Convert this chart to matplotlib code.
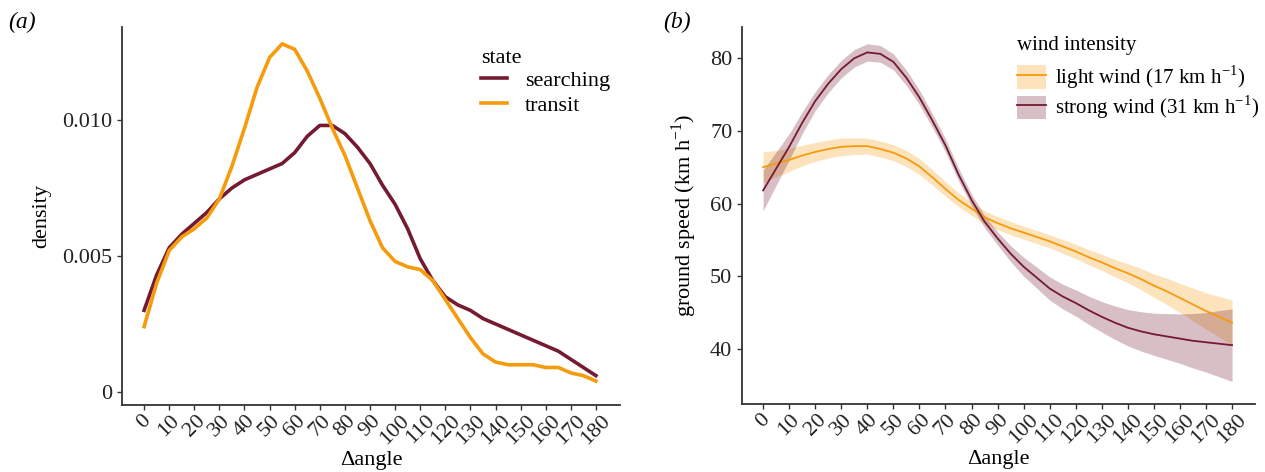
import matplotlib
matplotlib.use("Agg")
import matplotlib.pyplot as plt
from matplotlib.lines import Line2D
from matplotlib.patches import Patch
import numpy as np

plt.rcParams['font.family'] = ['Liberation Serif', 'DejaVu Serif']
plt.rcParams['mathtext.fontset'] = 'custom'
plt.rcParams['mathtext.rm'] = 'Liberation Serif'

# values read every 5 degrees
angle = list(range(0, 181, 5))
tick_angles = list(range(0, 181, 10))

searching = [0.0030, 0.0043, 0.0053, 0.0058, 0.0062, 0.0066, 0.0071, 0.0075, 0.0078, 0.0080,
             0.0082, 0.0084, 0.0088, 0.0094, 0.0098, 0.0098, 0.0095, 0.0090, 0.0084, 0.0076,
             0.0069, 0.0060, 0.0049, 0.0041, 0.0035, 0.0032, 0.0030, 0.0027, 0.0025, 0.0023,
             0.0021, 0.0019, 0.0017, 0.0015, 0.0012, 0.0009, 0.0006]
transit = [0.0024, 0.0040, 0.0052, 0.0057, 0.0060, 0.0064, 0.0071, 0.0083, 0.0097, 0.0112,
           0.0123, 0.0128, 0.0126, 0.0118, 0.0108, 0.0097, 0.0087, 0.0075, 0.0063, 0.0053,
           0.0048, 0.0046, 0.0045, 0.0041, 0.0034, 0.0027, 0.0020, 0.0014, 0.0011, 0.0010,
           0.0010, 0.0010, 0.0009, 0.0009, 0.0007, 0.0006, 0.0004]

light_mean = [65.0, 65.5, 66.0, 66.6, 67.1, 67.5, 67.8, 67.9, 67.9, 67.5, 67.0, 66.2, 65.1,
              63.6, 62.0, 60.5, 59.3, 58.1, 57.3, 56.6, 56.0, 55.4, 54.8, 54.1, 53.4, 52.6,
              51.9, 51.1, 50.4, 49.6, 48.7, 47.9, 47.0, 46.1, 45.2, 44.4, 43.6]
light_se = [2.1, 1.8, 1.6, 1.4, 1.3, 1.25, 1.2, 1.15, 1.1, 1.1, 1.1, 1.1, 1.1, 1.05, 1.0, 0.95,
            0.9, 0.9, 0.9, 0.9, 0.9, 0.9, 0.9, 0.95, 1.0, 1.05, 1.1, 1.2, 1.3, 1.45, 1.6, 1.8,
            2.0, 2.25, 2.5, 2.8, 3.1]
strong_mean = [61.8, 64.8, 67.8, 71.1, 74.1, 76.5, 78.5, 80.0, 80.8, 80.6, 79.5, 77.3, 74.6,
               71.4, 68.0, 64.0, 60.5, 57.5, 55.2, 53.1, 51.3, 49.8, 48.3, 47.2, 46.3, 45.3,
               44.4, 43.6, 42.9, 42.4, 42.0, 41.7, 41.4, 41.1, 40.9, 40.7, 40.5]
strong_se = [2.8, 2.3, 1.8, 1.5, 1.3, 1.25, 1.2, 1.2, 1.2, 1.15, 1.1, 1.05, 1.0, 0.95, 0.9, 0.85,
             0.8, 0.85, 0.9, 1.1, 1.3, 1.45, 1.6, 1.7, 1.8, 1.95, 2.1, 2.3, 2.5, 2.7, 2.9, 3.15,
             3.4, 3.75, 4.1, 4.55, 5.0]

maroon = '#741b31'
orange = '#f59b0c'
W, H = 1265, 472
FS = 16

fig = plt.figure(figsize=(12.65, 4.72), dpi=100)
ax1 = fig.add_axes([122 / W, 1 - 405 / H, (620 - 122) / W, (405 - 27) / H])
ax2 = fig.add_axes([742 / W, 1 - 404 / H, (1255 - 742) / W, (404 - 27) / H])

def style(ax):
    for s in ['top', 'right']:
        ax.spines[s].set_visible(False)
    for s in ['left', 'bottom']:
        ax.spines[s].set_color('#333333')
        ax.spines[s].set_linewidth(1.3)
    ax.tick_params(colors='#333333', labelsize=FS, length=3.5, width=1)
    ax.tick_params(axis='x', pad=1)
    ax.set_xticks(tick_angles)
    ax.set_xticklabels([str(t) for t in tick_angles], rotation=45, ha='center',
                       color='#222222')
    for lab in ax.get_yticklabels():
        lab.set_color('#222222')
    ax.set_xlabel('Δangle', fontsize=FS, va='center')
    ax.xaxis.set_label_coords(0.5, -0.147)

# panel a
ax1.plot(angle, searching, color=maroon, lw=2.6, label='searching')
ax1.plot(angle, transit, color=orange, lw=2.6, label='transit')
style(ax1)
ax1.set_xlim(-8.8, 189.6)
ax1.set_ylim(-0.00048, 0.01342)
ax1.set_yticks([0, 0.005, 0.010])
ax1.set_yticklabels(['0', '0.005', '0.010'])
ax1.set_ylabel('density', fontsize=FS, labelpad=8)
leg1 = ax1.legend(title='state', loc='upper left', bbox_to_anchor=(0.68, 0.995), frameon=False,
                  fontsize=FS, title_fontsize=FS, handlelength=1.2, handletextpad=0.8,
                  labelspacing=0.2)
leg1._legend_box.align = 'left'
leg1._legend_box.sep = 2

# panel b
lo_l = np.array(light_mean) - np.array(light_se)
hi_l = np.array(light_mean) + np.array(light_se)
lo_s = np.array(strong_mean) - np.array(strong_se)
hi_s = np.array(strong_mean) + np.array(strong_se)
ax2.fill_between(angle, lo_l, hi_l, color=orange, alpha=0.28, lw=0)
ax2.fill_between(angle, lo_s, hi_s, color=maroon, alpha=0.28, lw=0)
ax2.plot(angle, light_mean, color=orange, lw=1.3)
ax2.plot(angle, strong_mean, color=maroon, lw=1.3)
style(ax2)
ax2.set_xlim(-8.1, 188.8)
ax2.set_ylim(32.4, 84.3)
ax2.set_yticks([40, 50, 60, 70, 80])
ax2.set_ylabel('ground speed (km h$^{-1}$)', fontsize=FS, labelpad=8)
h_light = (Patch(facecolor=orange, alpha=0.28, lw=0), Line2D([], [], color=orange, lw=1.3))
h_strong = (Patch(facecolor=maroon, alpha=0.28, lw=0), Line2D([], [], color=maroon, lw=1.3))
leg2 = ax2.legend([h_light, h_strong],
                  ['light wind (17 km h$^{-1}$)', 'strong wind (31 km h$^{-1}$)'],
                  title='wind intensity', loc='upper left', bbox_to_anchor=(0.5, 1.025),
                  frameon=False, fontsize=15, title_fontsize=15, handlelength=1.4,
                  handleheight=1.35, handletextpad=0.4, labelspacing=0.12)
leg2._legend_box.align = 'left'
leg2._legend_box.sep = 6

fig.text(8 / W, 1 - 22 / H, '(a)', fontsize=17, style='italic', va='center')
fig.text(663 / W, 1 - 22 / H, '(b)', fontsize=17, style='italic', va='center')

fig.savefig('out.png', dpi=100)
